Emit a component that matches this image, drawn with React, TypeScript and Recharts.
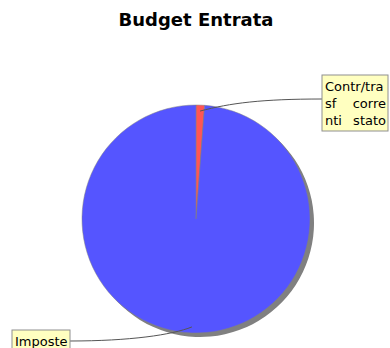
import { Cell, Pie, PieChart } from 'recharts'

const categories = ['Contr/trasf correnti stato', 'Imposte']
const values = [1.2, 98.8]
const labelLines = [
  [['Contr/tra'], ['sf', 'corre'], ['nti', 'stato']],
  [['Imposte']]
]
const sliceColors = ['#ff5555', '#5555ff']

const data = categories.map((name, i) => ({ name, value: values[i] }))

const RADIAN = Math.PI / 180
const FONT = '"DejaVu Sans", sans-serif'

const renderLabel = (props: any) => {
  const { cx, cy, midAngle, outerRadius, index } = props
  const r = outerRadius - 6
  const sx = cx + r * Math.cos(-midAngle * RADIAN)
  const sy = cy + r * Math.sin(-midAngle * RADIAN)
  const lines = labelLines[index]
  const right = index === 0
  const boxW = right ? 66 : 58
  const boxH = lines.length * 17 + 5
  const boxX = right ? cx + outerRadius + 12 : cx - outerRadius - 12 - boxW
  const boxY = right ? cy - 144 : cy + 111
  const ex = right ? boxX : boxX + boxW
  const ey = right ? boxY + 24 : boxY + 11
  const path = right
    ? `M${sx},${sy} C${sx + 30},${sy - 8} ${ex - 60},${ey} ${ex},${ey}`
    : `M${sx},${sy} C${sx - 20},${sy + 8} ${ex + 60},${ey} ${ex},${ey}`
  return (
    <g key={`lbl-${index}`}>
      <path d={path} fill="none" stroke="#555" strokeWidth={1} />
      <rect x={boxX} y={boxY} width={boxW} height={boxH} fill="#ffffc0" stroke="#909090" strokeWidth={1} />
      {lines.map((words, li) => (
        <g key={li}>
          <text x={boxX + 3} y={boxY + 16 + li * 17} fontFamily={FONT} fontSize={13} fill="#000">
            {words[0]}
          </text>
          {words[1] && (
            <text x={boxX + boxW - 2} y={boxY + 16 + li * 17} textAnchor="end" fontFamily={FONT} fontSize={13} fill="#000">
              {words[1]}
            </text>
          )}
        </g>
      ))}
    </g>
  )
}

export default function App() {
  return (
    <div style={{ position: 'absolute', left: 0, top: 0, width: 390, height: 348, background: '#fff' }}>
      <div
        style={{
          position: 'absolute',
          left: 0,
          top: 9,
          width: 392,
          textAlign: 'center',
          fontFamily: FONT,
          fontWeight: 'bold',
          fontSize: 18,
          color: '#000'
        }}
      >
        Budget Entrata
      </div>
      <PieChart
        width={390}
        height={348}
        margin={{ top: 0, right: 0, bottom: 0, left: 0 }}
        style={{ position: 'absolute', left: 0, top: 0 }}
      >
        <Pie
          data={data}
          dataKey="value"
          nameKey="name"
          cx={200}
          cy={223}
          outerRadius={114}
          startAngle={90}
          endAngle={-270}
          stroke="none"
          isAnimationActive={false}
        >
          {data.map((d) => (
            <Cell key={d.name} fill="#808080" />
          ))}
        </Pie>
        <Pie
          data={data}
          dataKey="value"
          nameKey="name"
          cx={196}
          cy={219}
          outerRadius={114}
          startAngle={90}
          endAngle={-270}
          stroke="#808080"
          strokeWidth={0.5}
          label={renderLabel}
          labelLine={false}
          isAnimationActive={false}
        >
          {data.map((d, i) => (
            <Cell key={d.name} fill={sliceColors[i]} />
          ))}
        </Pie>
      </PieChart>
    </div>
  )
}
